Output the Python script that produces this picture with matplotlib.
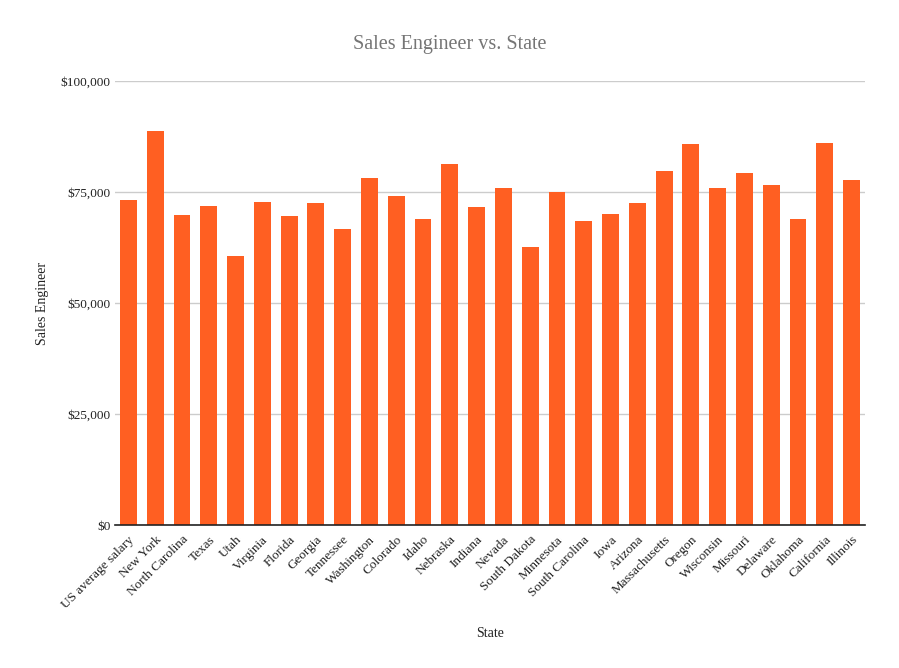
import matplotlib
matplotlib.use("Agg")
import matplotlib.pyplot as plt
from matplotlib.ticker import FuncFormatter

states = ["US average salary", "New York", "North Carolina", "Texas", "Utah", "Virginia",
          "Florida", "Georgia", "Tennessee", "Washington", "Colorado", "Idaho", "Nebraska",
          "Indiana", "Nevada", "South Dakota", "Minnesota", "South Carolina", "Iowa",
          "Arizona", "Massachusetts", "Oregon", "Wisconsin", "Missouri", "Delaware",
          "Oklahoma", "California", "Illinois"]
salaries = [73300, 88800, 69900, 71900, 60700, 72800, 69700, 72600, 66700, 78200, 74200,
            69000, 81400, 71700, 76000, 62700, 75100, 68500, 70100, 72600, 79800, 85900,
            76000, 79400, 76600, 69000, 86100, 77800]
yticks = [0, 25000, 50000, 75000, 100000]

plt.rcParams['font.family'] = ['Liberation Serif', 'DejaVu Serif']

fig = plt.figure(figsize=(8.99, 6.68), dpi=100)
ax = fig.add_axes([115/899, 1-525.3/668, 750/899, (525.3-81.3)/668])

x = list(range(len(states)))
ax.bar(x, salaries, width=0.63, color='#FF5F22', zorder=3)

ax.set_xlim(-0.5, len(states)-0.5)
ax.set_ylim(0, 100000)
ax.set_yticks(yticks)
ax.yaxis.set_major_formatter(FuncFormatter(lambda v, p: f"${int(v):,}"))
ax.grid(axis='y', color='#cccccc', linewidth=1, zorder=0)
for s in ['top', 'right', 'left']:
    ax.spines[s].set_visible(False)
ax.spines['bottom'].set_color('#222222')
ax.spines['bottom'].set_linewidth(1.2)
ax.spines['bottom'].set_zorder(4)
ax.tick_params(axis='both', length=0, labelsize=9.5, colors='#222222')
ax.tick_params(axis='y', pad=3)
ax.set_xticks(x)
ax.set_xticklabels(states, rotation=45, ha='right', rotation_mode='anchor')
ax.tick_params(axis='x', pad=6)

ax.set_ylabel("Sales Engineer", fontsize=10, color='#222222')
ax.set_xlabel("State", fontsize=10, color='#222222')
ax.xaxis.set_label_coords(0.5, -0.23)
ax.yaxis.set_label_coords(-0.088, 0.5)
fig.text(0.5, 1-45/668, "Sales Engineer vs. State", ha='center', va='center',
         fontsize=14.5, color='#757575')

fig.savefig("out.png", dpi=100)
